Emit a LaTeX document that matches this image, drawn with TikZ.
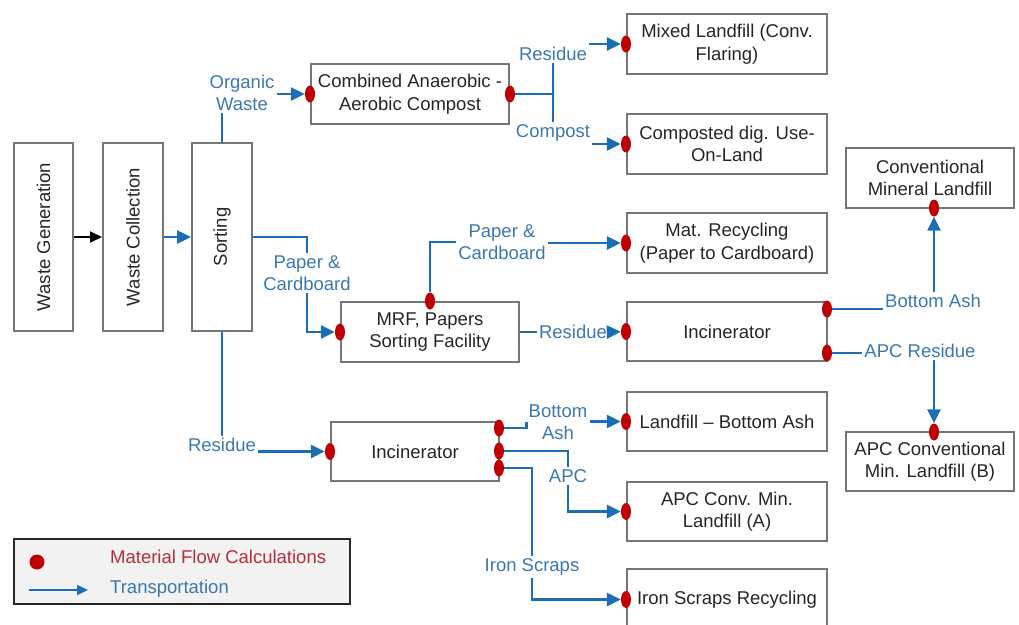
\documentclass[tikz,border=0pt]{standalone}
\usepackage{fontspec}
\setmainfont{Liberation Sans}
\usetikzlibrary{arrows.meta,shapes.geometric,calc}

\definecolor{boxgray}{RGB}{118,118,118}
\definecolor{boxtext}{RGB}{38,38,38}
\definecolor{lineblue}{RGB}{27,110,180}
\definecolor{labelblue}{RGB}{58,120,176}
\definecolor{flowred}{RGB}{192,0,0}
\definecolor{legendred}{RGB}{178,48,58}
\definecolor{legendfill}{RGB}{242,242,242}
\definecolor{legendedge}{RGB}{40,40,40}

\tikzset{
  stagebox/.style={draw=boxgray, line width=2pt, fill=white, text=boxtext,
    align=center, inner sep=2pt,
    font=\fontsize{18.5}{22.5}\selectfont},
  flowdot/.style={ellipse, fill=flowred, draw=none, inner sep=0pt,
    minimum width=10pt, minimum height=17pt},
  lbl/.style={text=labelblue, align=center, inner sep=2pt,
    font=\fontsize{18.5}{22.5}\selectfont},
  link/.style={draw=lineblue, line width=2.5pt},
  flowarrow/.style={link, -{Triangle[length=14pt,width=13pt]}},
  handoff/.style={draw=black, line width=2pt, -{Triangle[length=12pt,width=11pt]}},
}

\begin{document}
\begin{tikzpicture}[x=1pt, y=-1pt]
\clip (0,0) rectangle (1019,624);

% ---- process stages ----
\node[stagebox, minimum width=59pt, minimum height=188pt] (gen) at (43.5,237) {\rotatebox{90}{Waste Generation}};
\node[stagebox, minimum width=60pt, minimum height=188pt] (col) at (133,237) {\rotatebox{90}{Waste Collection}};
\node[stagebox, minimum width=60pt, minimum height=188pt] (sort) at (222,237) {\rotatebox{90}{Sorting}};

\node[stagebox, minimum width=198pt, minimum height=60pt] (comb) at (410,94) {Combined Anaerobic -\\Aerobic Compost};
\node[stagebox, minimum width=178pt, minimum height=60pt] (mrf) at (430,332) {MRF, Papers\\Sorting Facility};
\node[stagebox, minimum width=168pt, minimum height=59pt] (inctwo) at (415,451.5) {Incinerator};

\node[stagebox, minimum width=200pt, minimum height=60pt] (mixed) at (727,44) {Mixed Landfill (Conv.\\Flaring)};
\node[stagebox, minimum width=200pt, minimum height=60pt] (compd) at (727,144) {Composted dig. Use-\\On-Land};
\node[stagebox, minimum width=200pt, minimum height=60pt] (matrec) at (727,243) {Mat. Recycling\\(Paper to Cardboard)};
\node[stagebox, minimum width=200pt, minimum height=59pt] (incone) at (727,331.5) {Incinerator};
\node[stagebox, minimum width=200pt, minimum height=59pt] (lfba) at (727,421.5) {Landfill -- Bottom Ash};
\node[stagebox, minimum width=200pt, minimum height=59pt] (apca) at (727,511.5) {APC Conv. Min.\\Landfill (A)};
\node[stagebox, minimum width=200pt, minimum height=61pt] (iron) at (727,599.5) {Iron Scraps Recycling};

\node[stagebox, minimum width=168pt, minimum height=60pt] (convmin) at (930,178) {Conventional\\Mineral Landfill};
\node[stagebox, minimum width=168pt, minimum height=59pt] (apcb) at (930,461.5) {APC Conventional\\Min. Landfill (B)};

% ---- material flow calculation points ----
\node[flowdot] (dcombw) at (comb.west) {};
\node[flowdot] (dcombe) at (comb.east) {};
\node[flowdot] (dmixed) at (mixed.west) {};
\node[flowdot] (dcompd) at (compd.west) {};
\node[flowdot] (dmatrec) at (matrec.west) {};
\node[flowdot] (dmrfw) at (mrf.west) {};
\node[flowdot] (dmrfn) at (mrf.north) {};
\node[flowdot] (dinconew) at (incone.west) {};
\node[flowdot] (dinconea) at (827,309) {};
\node[flowdot] (dinconeb) at (827,353) {};
\node[flowdot] (dconv) at (934,208) {};
\node[flowdot] (dapcb) at (934,432) {};
\node[flowdot] (dlfba) at (lfba.west) {};
\node[flowdot] (dinctwow) at (inctwo.west) {};
\node[flowdot] (dinctwoa) at (499,428) {};
\node[flowdot] (dinctwob) at (499,451) {};
\node[flowdot] (dinctwoc) at (499,468) {};
\node[flowdot] (dapca) at (apca.west) {};
\node[flowdot] (diron) at (iron.west) {};

% ---- flow labels ----
\node[lbl] (lorg) at (242,93) {Organic\\Waste};
\node[lbl] (lresa) at (553,54) {Residue};
\node[lbl] (lcomp) at (553,133) {Compost};
\node[lbl] (lpca) at (307,273) {Paper \&\\Cardboard};
\node[lbl] (lpcb) at (502,242) {Paper \&\\Cardboard};
\node[lbl] (lresb) at (573,332) {Residue};
\node[lbl] (lbaa) at (933,301) {Bottom Ash};
\node[lbl] (lapcr) at (920,351) {APC Residue};
\node[lbl] (lresc) at (222,445) {Residue};
\node[lbl] (lbab) at (558,422) {Bottom\\Ash};
\node[lbl] (lapc) at (568,476) {APC};
\node[lbl] (liron) at (532,567) {Iron Scraps};

\coordinate (split) at (553,94);

% ---- connectors ----
\draw[handoff] (gen.east) -- (col.west);
\draw[flowarrow] (col.east) -- (sort.west);

% organic branch
\draw[link] (sort.north) -- (sort.north |- lorg.south);
\draw[flowarrow] (lorg.east |- dcombw) -- (dcombw);
\draw[link] (dcombe) -- (split);
\draw[link] (split) -- (lresa.south);
\draw[link] (split) -- (lcomp.north);
\draw[flowarrow] (lresa.east |- dmixed) -- (dmixed);
\draw[flowarrow] (lcomp.east |- dcompd) -- (dcompd);

% paper branch
\draw[link] (sort.east) -| (lpca.north);
\draw[flowarrow] (lpca.south) |- (dmrfw);
\draw[link] (dmrfn) |- (lpcb.west);
\draw[flowarrow] (lpcb.east |- dmatrec) -- (dmatrec);
\draw[link] (mrf.east) -- (lresb.west);
\draw[flowarrow] (lresb.east) -- (dinconew);
\draw[link] (dinconea) -- (dinconea -| lbaa.west);
\draw[flowarrow] (lbaa.north -| dconv) -- (dconv);
\draw[link] (dinconeb) -- (dinconeb -| lapcr.west);
\draw[flowarrow] (lapcr.south -| dapcb) -- (dapcb);

% residue branch
\draw[link] (sort.south) -- (lresc.north);
\draw[flowarrow] (lresc.east |- dinctwow) -- (dinctwow);
\draw[link] (dinctwoa) -| (lbab.west);
\draw[flowarrow] (lbab.east |- dlfba) -- (dlfba);
\draw[link] (dinctwob) -| (lapc.north);
\draw[flowarrow] (lapc.south) |- (dapca);
\draw[link] (dinctwoc) -| (liron.north);
\draw[flowarrow] (liron.south) |- (diron);

% ---- legend ----
\node[draw=legendedge, fill=legendfill, line width=2pt, minimum width=336pt, minimum height=65pt, inner sep=0pt] (legend) at (182,571.5) {};
\node[flowdot, minimum width=15pt, minimum height=15pt] (legdot) at (37,562) {};
\node[lbl, text=legendred, anchor=west] (legflow) at (108,557) {Material Flow Calculations};
\coordinate (legtail) at (29,590);
\coordinate (leghead) at (88,590);
\draw[draw=lineblue, line width=1.5pt, -{Triangle[length=11pt,width=10pt]}] (legtail) -- (leghead);
\node[lbl, anchor=west] (legtrans) at (108,589) {Transportation};
\end{tikzpicture}
\end{document}
